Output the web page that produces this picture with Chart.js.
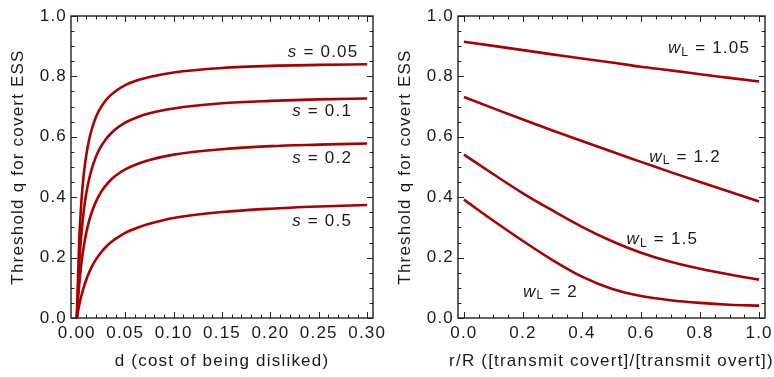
<!DOCTYPE html>
<html>
<head>
<meta charset="utf-8">
<script src="https://cdn.jsdelivr.net/npm/chart.js@4"></script>
<style>
  html, body { margin: 0; padding: 0; background: #fff; }
  #wrap { display: flex; width: 774px; height: 377px; }
  canvas { display: block; }
</style>
</head>
<body>
<div id="wrap">
  <canvas id="chart-d" width="387" height="377"></canvas>
  <canvas id="chart-r" width="387" height="377"></canvas>
</div>
<script>
// left panel: threshold q against d, one curve per s
const d_values = [0, 0.0025, 0.005, 0.0075, 0.01, 0.0125, 0.015, 0.02, 0.025, 0.03, 0.035, 0.04, 0.05, 0.0625, 0.075, 0.1, 0.15, 0.2, 0.25, 0.3];
const q_s005 = [0, 0.259, 0.398, 0.485, 0.544, 0.587, 0.620, 0.667, 0.698, 0.721, 0.738, 0.751, 0.771, 0.787, 0.798, 0.813, 0.828, 0.835, 0.838, 0.840];
const q_s01  = [0, 0.179, 0.288, 0.363, 0.417, 0.457, 0.489, 0.536, 0.568, 0.592, 0.610, 0.625, 0.647, 0.665, 0.678, 0.694, 0.711, 0.719, 0.724, 0.727];
const q_s02  = [0, 0.111, 0.188, 0.243, 0.286, 0.319, 0.346, 0.387, 0.417, 0.439, 0.457, 0.471, 0.492, 0.510, 0.523, 0.541, 0.559, 0.569, 0.574, 0.578];
const q_s05  = [0, 0.043, 0.077, 0.105, 0.129, 0.149, 0.167, 0.195, 0.217, 0.235, 0.250, 0.262, 0.282, 0.299, 0.312, 0.331, 0.351, 0.362, 0.369, 0.374];
const s_labels = ["0.05", "0.1", "0.2", "0.5"];

// right panel: threshold q against r/R, one curve per w_L
const r_values = [0, 0.1, 0.2, 0.3, 0.4, 0.5, 0.6, 0.7, 0.8, 0.9, 1.0];
const q_w105 = [0.915, 0.901, 0.887, 0.873, 0.859, 0.846, 0.832, 0.820, 0.807, 0.795, 0.783];
const q_w12  = [0.732, 0.694, 0.657, 0.621, 0.586, 0.551, 0.517, 0.483, 0.450, 0.418, 0.386];
const q_w15  = [0.541, 0.476, 0.413, 0.356, 0.302, 0.255, 0.216, 0.186, 0.163, 0.144, 0.127];
const q_w2   = [0.392, 0.322, 0.255, 0.192, 0.137, 0.097, 0.073, 0.059, 0.050, 0.044, 0.041];
const w_labels = ["1.05", "1.2", "1.5", "2"];

// axis ticks
const q_ticks = [0, 0.2, 0.4, 0.6, 0.8, 1.0];
const d_ticks = [0, 0.05, 0.1, 0.15, 0.2, 0.25, 0.3];
const r_ticks = [0, 0.2, 0.4, 0.6, 0.8, 1.0];

const RED = "#a80000";
const INK = "#1a1a1a";
const FONT = "Liberation Sans";

function minor_ticks(from, to, step) {
  const out = [];
  for (let v = from; v <= to + step / 2; v += step) out.push(v);
  return out;
}

// the original text is set loosely, so widen the letters a little
const spacing_plugin = {
  id: "spacing",
  beforeDraw(chart) {
    chart.ctx.letterSpacing = "1.2px";
  },
};

// Mathematica-like frame with inward ticks on every side
const frame_plugin = {
  id: "frame",
  afterDatasetsDraw(chart, _args, opts) {
    const { ctx, chartArea: a } = chart;
    const x = chart.scales.x, y = chart.scales.y;
    ctx.save();
    ctx.strokeStyle = "#222";
    ctx.lineWidth = 1;
    ctx.beginPath();
    const mark = (v, len, horiz) => {
      if (horiz) {
        const p = Math.round(x.getPixelForValue(v)) + 0.5;
        ctx.moveTo(p, a.bottom); ctx.lineTo(p, a.bottom - len);
        ctx.moveTo(p, a.top); ctx.lineTo(p, a.top + len);
      } else {
        const p = Math.round(y.getPixelForValue(v)) + 0.5;
        ctx.moveTo(a.left, p); ctx.lineTo(a.left + len, p);
        ctx.moveTo(a.right, p); ctx.lineTo(a.right - len, p);
      }
    };
    opts.xMinor.forEach((v) => mark(v, 3.5, true));
    opts.xMajor.forEach((v) => mark(v, 6, true));
    opts.yMinor.forEach((v) => mark(v, 3.5, false));
    opts.yMajor.forEach((v) => mark(v, 6, false));
    ctx.stroke();
    ctx.lineWidth = 1.4;
    ctx.strokeRect(a.left, a.top, a.right - a.left, a.bottom - a.top);

    // x axis title, drawn here so it is not squeezed to the frame width
    ctx.fillStyle = INK;
    ctx.font = "17px '" + FONT + "'";
    ctx.textAlign = "center";
    ctx.textBaseline = "middle";
    ctx.fillText(opts.xTitle, (a.left + a.right) / 2, opts.xTitleY);
    ctx.restore();
  },
};

// curve labels such as "s = 0.05" and "wL = 1.2" (italic letter, subscript L)
const label_plugin = {
  id: "curveLabels",
  afterDatasetsDraw(chart, _args, opts) {
    const { ctx } = chart;
    const x = chart.scales.x, y = chart.scales.y;
    ctx.save();
    ctx.fillStyle = INK;
    ctx.textBaseline = "middle";
    ctx.textAlign = "left";
    opts.items.forEach((item) => {
      let px = x.getPixelForValue(item.x);
      const py = y.getPixelForValue(item.y);
      item.parts.forEach((part) => {
        const size = part.sub ? 12 : 17;
        ctx.font = (part.italic ? "italic " : "") + size + "px '" + FONT + "'";
        ctx.fillText(part.t, px, py + (part.sub ? 4 : 0));
        px += ctx.measureText(part.t).width;
      });
    });
    ctx.restore();
  },
};

function make_chart(id, cfg) {
  return new Chart(id, {
    type: "line",
    data: {
      datasets: cfg.series.map((q) => ({
        data: cfg.xs.map((v, i) => ({ x: v, y: q[i] })),
        borderColor: RED,
        borderWidth: 2.6,
        pointRadius: 0,
        fill: false,
        cubicInterpolationMode: "monotone",
      })),
    },
    options: {
      responsive: false,
      animation: false,
      devicePixelRatio: 1,
      parsing: false,
      layout: { padding: { top: 16, right: cfg.padRight, left: 0, bottom: 0 } },
      plugins: {
        legend: { display: false },
        tooltip: { enabled: false },
        frame: {
          xMajor: cfg.xTicks,
          xMinor: minor_ticks(0, cfg.xTicks[cfg.xTicks.length - 1], cfg.xMinorStep),
          yMajor: q_ticks,
          yMinor: minor_ticks(0, 1, 0.05),
          xTitle: cfg.xTitle,
          xTitleY: 361,
        },
        curveLabels: { items: cfg.labels },
      },
      scales: {
        x: {
          type: "linear",
          min: cfg.xMin,
          max: cfg.xMax,
          afterBuildTicks: (s) => { s.ticks = cfg.xTicks.map((v) => ({ value: v })); },
          afterFit: (s) => { s.height = 59; s.paddingLeft = 0; s.paddingRight = 0; },
          grid: { display: false, drawTicks: false },
          border: { display: false },
          ticks: {
            padding: 5,
            autoSkip: false,
            maxRotation: 0,
            color: INK,
            font: { family: FONT, size: 17 },
            callback: (v) => Number(v).toFixed(cfg.xDigits),
          },
        },
        y: {
          type: "linear",
          min: 0,
          max: 1,
          afterBuildTicks: (s) => { s.ticks = q_ticks.map((v) => ({ value: v })); },
          afterFit: (s) => { s.width = 71; s.paddingTop = 0; s.paddingBottom = 0; },
          grid: { display: false, drawTicks: false },
          border: { display: false },
          ticks: {
            padding: 4,
            color: INK,
            font: { family: FONT, size: 17 },
            callback: (v) => Number(v).toFixed(1),
          },
          title: {
            display: true,
            text: "Threshold q for covert ESS",
            color: INK,
            font: { family: FONT, size: 17 },
            padding: { top: 8, bottom: 0 },
          },
        },
      },
    },
    plugins: [spacing_plugin, frame_plugin, label_plugin],
  });
}

make_chart("chart-d", {
  xs: d_values,
  series: [q_s005, q_s01, q_s02, q_s05],
  xMin: -0.006,
  xMax: 0.306,
  xTicks: d_ticks,
  xMinorStep: 0.01,
  xDigits: 2,
  padRight: 14,
  xTitle: "d (cost of being disliked)",
  labels: [
    { x: 0.218, y: 0.880, parts: [{ t: "s", italic: true }, { t: " = " + s_labels[0] }] },
    { x: 0.2225, y: 0.684, parts: [{ t: "s", italic: true }, { t: " = " + s_labels[1] }] },
    { x: 0.2225, y: 0.529, parts: [{ t: "s", italic: true }, { t: " = " + s_labels[2] }] },
    { x: 0.2225, y: 0.320, parts: [{ t: "s", italic: true }, { t: " = " + s_labels[3] }] },
  ],
});

make_chart("chart-r", {
  xs: r_values,
  series: [q_w105, q_w12, q_w15, q_w2],
  xMin: -0.02,
  xMax: 1.02,
  xTicks: r_ticks,
  xMinorStep: 0.05,
  xDigits: 1,
  padRight: 9,
  xTitle: "r/R ([transmit covert]/[transmit overt])",
  labels: [
    { x: 0.691, y: 0.892, parts: [{ t: "w", italic: true }, { t: "L", sub: true }, { t: " = " + w_labels[0] }] },
    { x: 0.628, y: 0.533, parts: [{ t: "w", italic: true }, { t: "L", sub: true }, { t: " = " + w_labels[1] }] },
    { x: 0.551, y: 0.260, parts: [{ t: "w", italic: true }, { t: "L", sub: true }, { t: " = " + w_labels[2] }] },
    { x: 0.200, y: 0.086, parts: [{ t: "w", italic: true }, { t: "L", sub: true }, { t: " = " + w_labels[3] }] },
  ],
});
</script>
</body>
</html>
